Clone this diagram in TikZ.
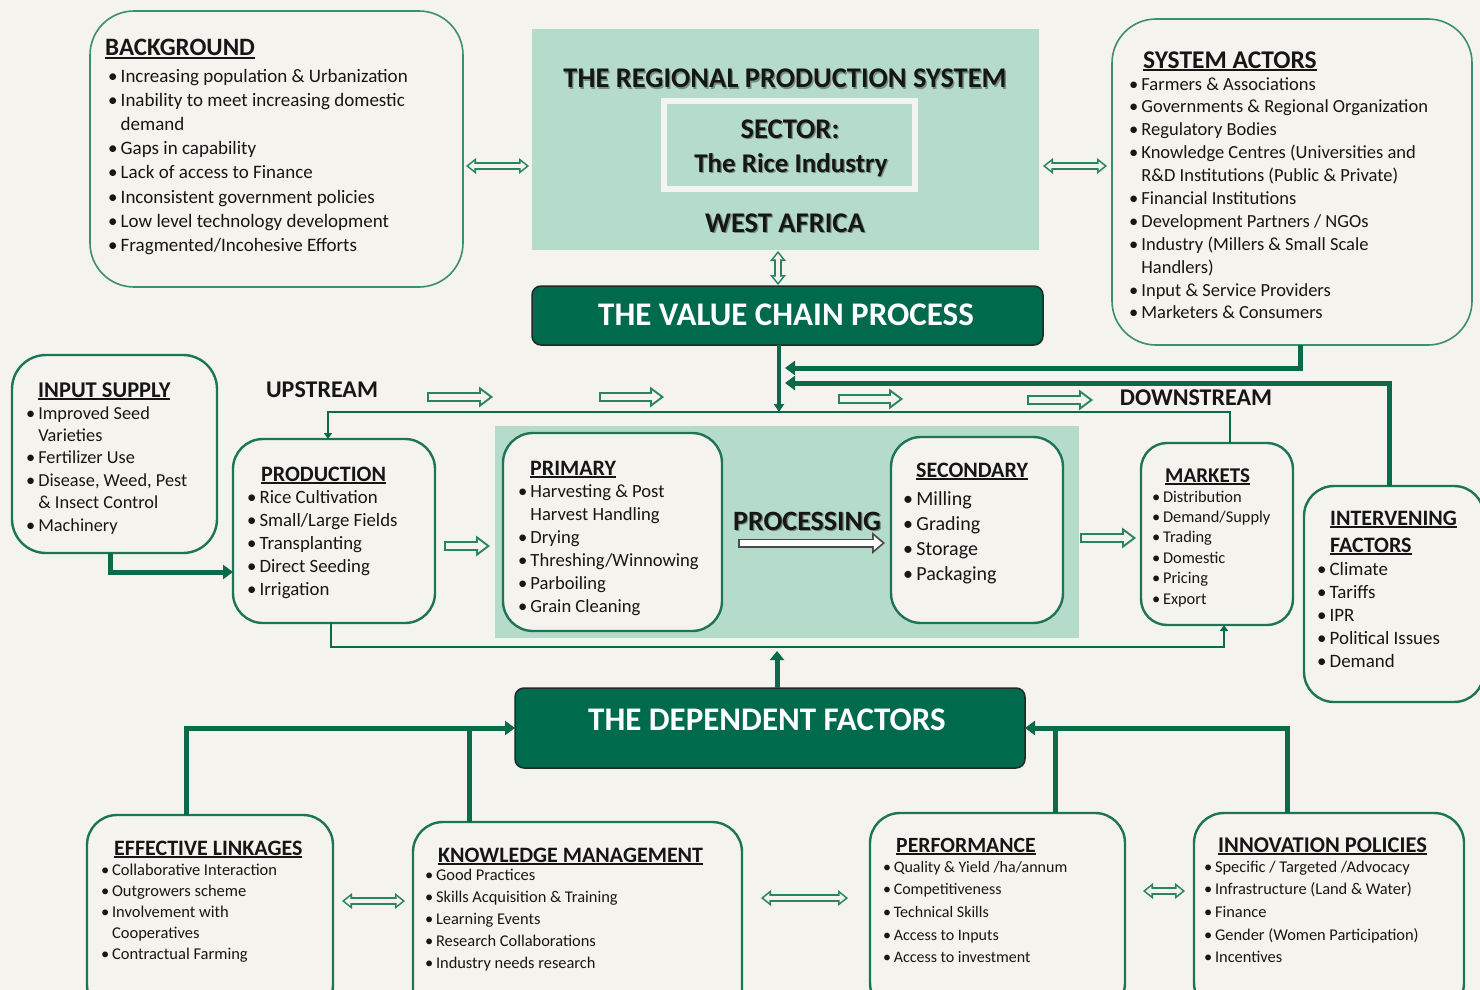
\documentclass[tikz,border=0pt]{standalone}
\usepackage{fontspec}
\setmainfont{Carlito}
\usetikzlibrary{arrows.meta}

\definecolor{rpCream}{HTML}{F5F3EE}
\definecolor{rpBoxLine}{HTML}{1D7456}
\definecolor{rpSoftLine}{HTML}{3E8C72}
\definecolor{rpArrowLine}{HTML}{2A8464}
\definecolor{rpLink}{HTML}{0B6A4A}
\definecolor{rpDark}{HTML}{006A4D}
\definecolor{rpEdge}{HTML}{1E2B25}
\definecolor{rpMint}{HTML}{B5DCCB}
\definecolor{rpFrame}{HTML}{F3F3EF}
\definecolor{rpInk}{HTML}{161616}
\definecolor{rpGreyEdge}{HTML}{4A4A4A}

% underlined box titles, bullets and item lists
\newcommand\uhead[1]{\setbox0=\hbox{#1}\rlap{\rule[-2.6pt]{\wd0}{1.5pt}}\box0}
\newcommand\bl{\makebox[0.66em][l]{\textbullet}}
\newcommand\nb{\hspace*{0.66em}}
\newcommand\lst[1]{\begin{tabular}[t]{@{}l@{}}#1\end{tabular}}
\newcommand\setfs[2]{\fontsize{#1}{#2}\selectfont}

\tikzset{
  panel/.style={draw=rpBoxLine, line width=2.4pt, fill=rpCream, rounded corners=30pt,
    anchor=north west, inner sep=0pt, outer sep=0pt},
  soft panel/.style={panel, draw=rpSoftLine, line width=1.6pt, rounded corners=44pt},
  banner/.style={fill=rpDark, draw=rpEdge, line width=1.5pt, rounded corners=9pt,
    anchor=north west, inner sep=0pt, outer sep=0pt},
  band/.style={fill=rpMint, anchor=north west, inner sep=0pt, outer sep=0pt},
  boxhead/.style={anchor=base west, inner sep=0pt, text=rpInk},
  boxitems/.style={anchor=base west, inner sep=0pt, text=rpInk},
  bigtext/.style={anchor=base, inner sep=0pt, text=rpInk},
  bigshade/.style={bigtext, text=black, opacity=0.35, xshift=1.3pt, yshift=-1.3pt},
  bus/.style={draw=rpLink, line width=2.8pt},
  feed/.style={draw=rpLink, line width=5pt, -{Triangle[length=10pt, width=14pt]}},
  % hollow arrows: a cream line laid over a wider green one
  flowOut/.tip={Triangle[length=14pt, width=21pt, line width=0pt]},
  flowIn/.tip={Triangle[length=8.5pt, width=12.8pt, line width=0pt]},
  linkOut/.tip={Triangle[length=10pt, width=16pt, line width=0pt]},
  linkIn/.tip={Triangle[length=5.8pt, width=9.3pt, line width=0pt]},
  greyOut/.tip={Triangle[length=13pt, width=22pt, line width=0pt]},
  greyIn/.tip={Triangle[length=8.4pt, width=14.2pt, line width=0pt]},
  flow arrow/.style 2 args={draw=rpCream, line width=5.4pt, -flowIn,
    shorten <=#1+2pt, shorten >=#2+3.4pt,
    preaction={draw=rpArrowLine, line width=9.5pt, -flowOut, shorten <=#1, shorten >=#2}},
  link both/.style 2 args={draw=rpCream, line width=4.2pt, linkIn-linkIn,
    shorten <=#1+2.6pt, shorten >=#2+2.6pt,
    preaction={draw=rpArrowLine, line width=7.4pt, linkOut-linkOut, shorten <=#1, shorten >=#2}},
  grey arrow/.style 2 args={draw=white, line width=5.4pt, -greyIn,
    shorten <=#1+1.8pt, shorten >=#2+2.8pt,
    preaction={draw=rpGreyEdge, line width=9pt, -greyOut, shorten <=#1, shorten >=#2}},
}

\begin{document}
\begin{tikzpicture}[x=1pt, y=-1pt]
\useasboundingbox (0,0) rectangle (1480,990);
\clip (0,0) rectangle (1480,990);
\fill[rpCream] (0,0) rectangle (1480,990);

%% Top row: background, regional system, actors ======================
\node[soft panel, minimum width=373pt, minimum height=276pt] (bg) at (90,11) {};
\node[boxhead, font=\bfseries\setfs{25}{30}] (bgHead) at (105,56) {\uhead{BACKGROUND}};
\node[boxitems, font=\setfs{19}{24.2}] (bgList) at (108,82) {\lst{%
  \bl Increasing population \& Urbanization\\
  \bl Inability to meet increasing domestic\\
  \nb demand\\
  \bl Gaps in capability\\
  \bl Lack of access to Finance\\
  \bl Inconsistent government policies\\
  \bl Low level technology development\\
  \bl Fragmented/Incohesive Efforts}};

\node[band, minimum width=507pt, minimum height=221pt] (rps) at (532,29) {};
\node[draw=rpFrame, line width=6pt, fill=rpMint, anchor=north west, inner sep=0pt,
  outer sep=0pt, minimum width=251pt, minimum height=88pt] (sector) at (664,101) {};
% soft shadow under the big titles
\node[bigshade, font=\bfseries\setfs{28.5}{32}] (rpsHeadShade) at (785,88) {THE REGIONAL PRODUCTION SYSTEM};
\node[bigshade, font=\bfseries\setfs{28.5}{32}] (sectorHeadShade) at (790,138) {SECTOR:};
\node[bigshade, font=\bfseries\setfs{27}{32}] (sectorNameShade) at (791,172) {The Rice Industry};
\node[bigshade, font=\bfseries\setfs{28.5}{32}] (rpsRegionShade) at (785,232) {WEST AFRICA};
\node[bigtext, font=\bfseries\setfs{28.5}{32}] (rpsHead) at (785,88) {THE REGIONAL PRODUCTION SYSTEM};
\node[bigtext, font=\bfseries\setfs{28.5}{32}] (sectorHead) at (790,138) {SECTOR:};
\node[bigtext, font=\bfseries\setfs{27}{32}] (sectorName) at (791,172) {The Rice Industry};
\node[bigtext, font=\bfseries\setfs{28.5}{32}] (rpsRegion) at (785,232) {WEST AFRICA};

\node[soft panel, minimum width=360pt, minimum height=326pt] (sa) at (1112,19) {};
\node[boxhead, font=\bfseries\setfs{25.5}{30}] (saHead) at (1143,68) {\uhead{SYSTEM ACTORS}};
\node[boxitems, font=\setfs{18.5}{22.9}] (saList) at (1129,90) {\lst{%
  \bl Farmers \& Associations\\
  \bl Governments \& Regional Organization\\
  \bl Regulatory Bodies\\
  \bl Knowledge Centres (Universities and\\
  \nb R\&D Institutions (Public \& Private)\\
  \bl Financial Institutions\\
  \bl Development Partners / NGOs\\
  \bl Industry (Millers \& Small Scale\\
  \nb Handlers)\\
  \bl Input \& Service Providers\\
  \bl Marketers \& Consumers}};

\node[banner, minimum width=511pt, minimum height=59pt] (vcp) at (532,286) {};
\node[bigtext, text=white, font=\bfseries\setfs{33}{36}] (vcpText) at (786,325) {THE VALUE CHAIN PROCESS};

%% Middle row: the value chain ========================================
\node[panel, rounded corners=34pt, minimum width=205pt, minimum height=198pt] (inp) at (12,355) {};
\node[boxhead, font=\bfseries\setfs{22.5}{27}] (inpHead) at (38,397) {\uhead{INPUT SUPPLY}};
\node[boxitems, font=\setfs{18.3}{22.4}] (inpList) at (26,419) {\lst{%
  \bl Improved Seed\\
  \nb Varieties\\
  \bl Fertilizer Use\\
  \bl Disease, Weed, Pest\\
  \nb \& Insect Control\\
  \bl Machinery}};

\node[panel, minimum width=202pt, minimum height=184pt] (prod) at (233,439) {};
\node[boxhead, font=\bfseries\setfs{22}{27}] (prodHead) at (261,481) {\uhead{PRODUCTION}};
\node[boxitems, font=\setfs{18.8}{23}] (prodList) at (247,503) {\lst{%
  \bl Rice Cultivation\\
  \bl Small/Large Fields\\
  \bl Transplanting\\
  \bl Direct Seeding\\
  \bl Irrigation}};

\node[band, minimum width=584pt, minimum height=212pt] (proc) at (495,426) {};
\node[panel, minimum width=219pt, minimum height=198pt] (prim) at (503,433) {};
\node[boxhead, font=\bfseries\setfs{22}{27}] (primHead) at (530,475) {\uhead{PRIMARY}};
\node[boxitems, font=\setfs{18.6}{23}] (primList) at (518,497) {\lst{%
  \bl Harvesting \& Post\\
  \nb Harvest Handling\\
  \bl Drying\\
  \bl Threshing/Winnowing\\
  \bl Parboiling\\
  \bl Grain Cleaning}};

\node[bigshade, font=\bfseries\setfs{28}{32}] (procTextShade) at (807,530) {PROCESSING};
\node[bigtext, font=\bfseries\setfs{28}{32}] (procText) at (807,530) {PROCESSING};

\node[panel, minimum width=172pt, minimum height=186pt] (sec) at (891,437) {};
\node[boxhead, font=\bfseries\setfs{22}{27}] (secHead) at (916,477) {\uhead{SECONDARY}};
\node[boxitems, font=\setfs{20}{25}] (secList) at (903,505) {\lst{%
  \bl Milling\\
  \bl Grading\\
  \bl Storage\\
  \bl Packaging}};

\node[panel, rounded corners=26pt, minimum width=152pt, minimum height=182pt] (mkt) at (1141,443) {};
\node[boxhead, font=\bfseries\setfs{21}{26}] (mktHead) at (1165,482) {\uhead{MARKETS}};
\node[boxitems, font=\setfs{16.4}{20.4}] (mktList) at (1152,502) {\lst{%
  \bl Distribution\\
  \bl Demand/Supply\\
  \bl Trading\\
  \bl Domestic\\
  \bl Pricing\\
  \bl Export}};

\node[panel, minimum width=180pt, minimum height=216pt] (ifac) at (1304,486) {};
\node[boxhead, font=\bfseries\setfs{22}{27}] (ifacHead) at (1330,525) {\lst{%
  \uhead{INTERVENING}\\
  \uhead{FACTORS}}};
\node[boxitems, font=\setfs{18.9}{23}] (ifacList) at (1317,575) {\lst{%
  \bl Climate\\
  \bl Tariffs\\
  \bl IPR\\
  \bl Political Issues\\
  \bl Demand}};

\node[bigtext, font=\bfseries\setfs{24}{28}] (upText) at (322,397) {UPSTREAM};
\node[bigtext, font=\bfseries\setfs{24}{28}] (downText) at (1196,405) {DOWNSTREAM};

%% Bottom row: the dependent factors ==================================
\node[banner, minimum width=510pt, minimum height=80pt] (dep) at (515,688) {};
\node[bigtext, text=white, font=\bfseries\setfs{33}{36}] (depText) at (767,730) {THE DEPENDENT FACTORS};

\node[panel, minimum width=246pt, minimum height=200pt] (el) at (87,815) {};
\node[boxhead, font=\bfseries\setfs{22}{27}] (elHead) at (114,855) {\uhead{EFFECTIVE LINKAGES}};
\node[boxitems, font=\setfs{16.5}{21}] (elList) at (101,875) {\lst{%
  \bl Collaborative Interaction\\
  \bl Outgrowers scheme\\
  \bl Involvement with\\
  \nb Cooperatives\\
  \bl Contractual Farming}};

\node[panel, minimum width=329pt, minimum height=200pt] (km) at (413,822) {};
\node[boxhead, font=\bfseries\setfs{22}{27}] (kmHead) at (438,862) {\uhead{KNOWLEDGE MANAGEMENT}};
\node[boxitems, font=\setfs{16.4}{22.2}] (kmList) at (425,880) {\lst{%
  \bl Good Practices\\
  \bl Skills Acquisition \& Training\\
  \bl Learning Events\\
  \bl Research Collaborations\\
  \bl Industry needs research}};

\node[panel, minimum width=255pt, minimum height=200pt] (perf) at (870,813) {};
\node[boxhead, font=\bfseries\setfs{21.7}{27}] (perfHead) at (896,852) {\uhead{PERFORMANCE}};
\node[boxitems, font=\setfs{16}{22.7}] (perfList) at (883,872) {\lst{%
  \bl Quality \& Yield /ha/annum\\
  \bl Competitiveness\\
  \bl Technical Skills\\
  \bl Access to Inputs\\
  \bl Access to investment}};

\node[panel, minimum width=270pt, minimum height=200pt] (ip) at (1194,813) {};
\node[boxhead, font=\bfseries\setfs{22.5}{27}] (ipHead) at (1218,852) {\uhead{INNOVATION POLICIES}};
\node[boxitems, font=\setfs{16.4}{22.7}] (ipList) at (1204,872) {\lst{%
  \bl Specific / Targeted /Advocacy\\
  \bl Infrastructure (Land \& Water)\\
  \bl Finance\\
  \bl Gender (Women Participation)\\
  \bl Incentives}};

%% Connectors ==========================================================
\coordinate (busTop) at (779,412);
\coordinate (busBot) at (777,647);
\coordinate (saIn) at (785,368);
\coordinate (ifIn) at (785,383);
\coordinate (leftJoin) at (469,728);
\coordinate (rightJoin) at (1055,728);

% value chain bus, top and bottom
\draw[bus, line width=3.2pt, -{Triangle[length=8pt, width=10pt]}] (vcp.south -| busTop) -- (busTop);
\draw[bus, {Triangle[length=6pt, width=8pt]}-] (prod.north -| 328,0) |- (busTop) -| (mkt.north -| 1230,0);
\draw[bus, -{Triangle[length=6pt, width=8pt]}] (prod.south -| 331,0) |- (busBot) -| (mkt.south -| 1224,0);
\draw[feed, -{Triangle[length=9pt, width=14pt]}, shorten >=4pt] (dep.north -| busBot) -- (busBot);

% actors and intervening factors feed the chain
\draw[feed] (sa.south -| 1300,0) |- (saIn);
\draw[feed] (ifac.north -| 1389,0) |- (ifIn);
\draw[feed] (inp.south -| 110,0) |- (prod.west |- 0,572);

% dependent factors
\draw[feed] (el.north -| 186,0) |- (dep.west);
\draw[feed, -] (km.north -| leftJoin) -- (leftJoin);
\draw[feed] (ip.north -| 1287,0) |- (dep.east);
\draw[feed, -] (perf.north -| rightJoin) -- (rightJoin);

% hollow arrows
\draw[link both={3pt}{3pt}] (bg.east |- 0,166) -- (rps.west |- 0,166);
\draw[link both={4pt}{5pt}] (rps.east |- 0,166) -- (sa.west |- 0,166);
\draw[link both={1pt}{1pt}] (rps.south -| 778,0) -- (vcp.north -| 778,0);
\draw[flow arrow={9pt}{5pt}] (prod.east |- 0,546) -- (proc.west |- 0,546);
\draw[flow arrow={1pt}{5pt}] (proc.east |- 0,538) -- (mkt.west |- 0,538);
\draw[grey arrow={16pt}{6pt}] (prim.east |- 0,543) -- (sec.west |- 0,543);
\draw[link both={9pt}{8pt}] (el.east |- 0,901) -- (km.west |- 0,901);
\draw[link both={19pt}{22pt}] (km.east |- 0,898) -- (perf.west |- 0,898);
\draw[link both={18pt}{9pt}] (perf.east |- 0,891) -- (ip.west |- 0,891);

% upstream / downstream direction marks
\foreach \xa/\xb/\yy in {427/493/397, 599/664/397, 838/903/399, 1027/1093/400}
  \draw[flow arrow={0pt}{0pt}] (\xa,\yy) -- (\xb,\yy);

\end{tikzpicture}
\end{document}
